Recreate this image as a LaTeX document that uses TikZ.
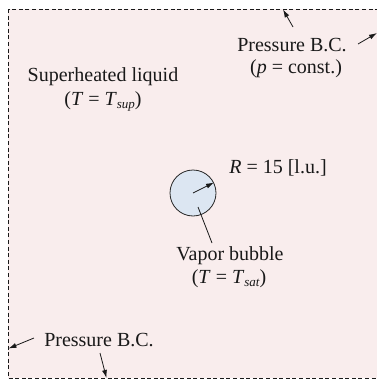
\documentclass[tikz,border=0pt]{standalone}
\usepackage{fontspec}
\setmainfont{Liberation Serif}
\usetikzlibrary{arrows.meta}
\definecolor{liquid}{RGB}{249,237,237}
\definecolor{vapor}{RGB}{220,230,242}
\definecolor{edge}{RGB}{40,40,40}
\newcommand\subsc[1]{\raisebox{-0.35ex}{\fontsize{13}{13}\selectfont\itshape #1}}
\begin{document}
\begin{tikzpicture}[x=1pt,y=-1pt,
  lbl/.style={anchor=base,inner sep=0pt,font=\fontsize{20}{24}\selectfont,text=black!90},
  arr/.style={-{Latex[length=8pt,width=5pt]},line width=0.8pt,draw=black!90},
  border/.style={draw=black!90,line width=0.9pt,dash pattern=on 4pt off 2.6pt}]
\useasboundingbox (0,0) rectangle (377,380);
\clip (0,0) rectangle (377,380);
\fill[liquid] (8,9) rectangle (380,378);
\draw[border] (8,9) rectangle (379,378);
% bubble
\node[circle,draw=edge,fill=vapor,line width=0.8pt,minimum size=46pt,inner sep=0pt] (bub) at (193,193) {};
\coordinate (c) at (193,193);
\coordinate (rtip) at (214,182.5);
\draw[arr] (c) -- (rtip);
% texts
\node[lbl] (sup1) at (103,81) {Superheated liquid};
\node[lbl] (sup2) at (103,105) {(\textit{T} = \textit{T}\subsc{sup})};
\node[lbl] (pbc1) at (292,51) {Pressure B.C.};
\node[lbl] (pbc2) at (296,73) {(\textit{p} = const.)};
\node[lbl] (rad) at (278,173) {\textit{R} = 15 [l.u.]};
\node[lbl] (vap1) at (230,260) {Vapor bubble};
\node[lbl] (vap2) at (229,283) {(\textit{T} = \textit{T}\subsc{sat})};
\node[lbl] (pbc3) at (99,346) {Pressure B.C.};
% leader
\coordinate (l1) at (198,207);
\coordinate (l2) at (212,243);
\draw[line width=0.8pt,draw=black!90] (l1) -- (l2);
% pressure arrows
\coordinate (t1) at (293,27);
\coordinate (t2) at (283,9.5);
\draw[arr] (t1) -- (t2);
\coordinate (r1) at (358,44);
\coordinate (r2) at (377,33);
\draw[arr] (r1) -- (r2);
\coordinate (b1) at (34,338);
\coordinate (b2) at (8.5,348.5);
\draw[arr] (b1) -- (b2);
\coordinate (d1) at (100,353);
\coordinate (d2) at (106.5,378);
\draw[arr] (d1) -- (d2);
\end{tikzpicture}
\end{document}
